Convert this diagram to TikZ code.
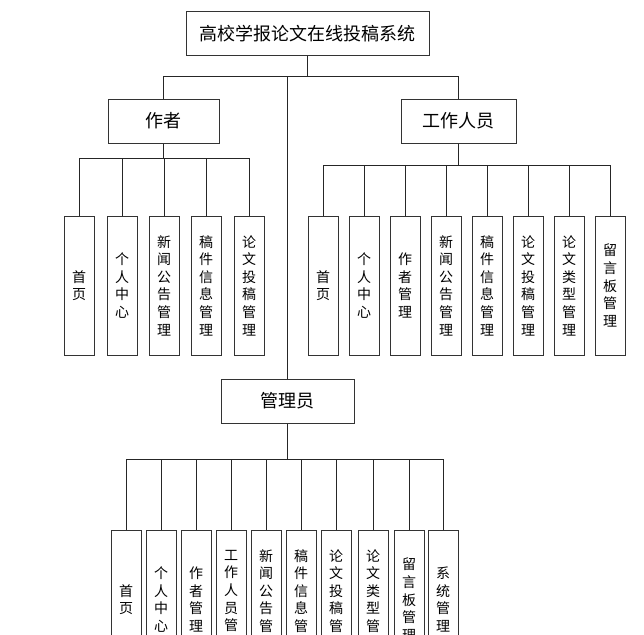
\documentclass[tikz,border=0pt]{standalone}
\usepackage{fontspec}
\setmainfont{Noto Sans CJK SC}
\usetikzlibrary{positioning}

\begin{document}
\begin{tikzpicture}[x=1pt, y=-1pt,
    rolebox/.style={rectangle, draw=black!80, line width=1pt, minimum height=44pt, inner sep=0pt, font=\fontsize{18}{18}\selectfont},
    leafbox/.style={rectangle, draw=black!80, line width=1pt, minimum width=30pt, minimum height=139pt, inner sep=0pt, align=center, font=\fontsize{14}{17.6}\selectfont},
    link/.style={draw=black!85, line width=1pt}]
    \useasboundingbox (0,0) rectangle (644,634);

    \node[rolebox, minimum width=243pt] (sys) at (307.5,33.5) {高校学报论文在线投稿系统};
    \node[rolebox, minimum width=111pt] (author) at (163.5,121) {作者};
    \node[rolebox, minimum width=115pt] (staff) at (458.5,121) {工作人员};
    \node[rolebox, minimum width=133pt] (admin) at (287.5,401) {管理员};

    \draw[link] (sys.south) -- ++(0,20) coordinate (topbus);
    \draw[link] (author.north) |- (topbus);
    \draw[link] (staff.north) |- (topbus);
    \draw[link] (admin.north) |- (topbus);

    \draw[link] (author.south) -- ++(0,15) coordinate (authorbus);
    \foreach \x/\txt [count=\i] in {79/首\\页, 122/个\\人\\中\\心, 164/新\\闻\\公\\告\\管\\理,
        206/稿\\件\\信\\息\\管\\理, 249/论\\文\\投\\稿\\管\\理} {
        \node[leafbox] (a\i) at (\x,285.5) {\txt};
        \draw[link] (a\i.north) |- (authorbus);
    }

    \draw[link] (staff.south) -- ++(0,22) coordinate (staffbus);
    \foreach \x/\txt [count=\i] in {323/首\\页, 364/个\\人\\中\\心, 405/作\\者\\管\\理,
        446/新\\闻\\公\\告\\管\\理, 487/稿\\件\\信\\息\\管\\理, 528/论\\文\\投\\稿\\管\\理,
        569/论\\文\\类\\型\\管\\理, 610/留\\言\\板\\管\\理} {
        \node[leafbox] (s\i) at (\x,285.5) {\txt};
        \draw[link] (s\i.north) |- (staffbus);
    }

    \draw[link] (admin.south) -- ++(0,36) coordinate (adminbus);
    \foreach \x/\txt [count=\i] in {126/首\\页, 161/个\\人\\中\\心, 196/作\\者\\管\\理,
        231/工\\作\\人\\员\\管\\理, 266/新\\闻\\公\\告\\管\\理, 301/稿\\件\\信\\息\\管\\理,
        336/论\\文\\投\\稿\\管\\理, 373/论\\文\\类\\型\\管\\理, 409/留\\言\\板\\管\\理,
        443/系\\统\\管\\理} {
        \node[leafbox] (m\i) at (\x,599.5) {\txt};
        \draw[link] (m\i.north) |- (adminbus);
    }
\end{tikzpicture}
\end{document}
